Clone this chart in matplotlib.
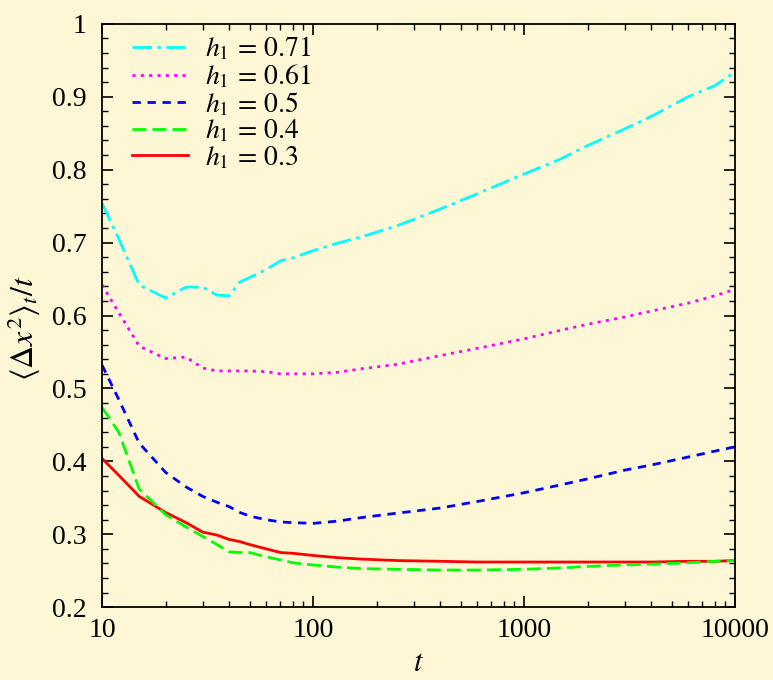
import matplotlib
matplotlib.use("Agg")
import matplotlib.pyplot as plt
from matplotlib.ticker import MultipleLocator, LogLocator, FixedLocator, NullFormatter, FuncFormatter

plt.rcParams["font.family"] = ["Liberation Serif", "DejaVu Serif"]
plt.rcParams["mathtext.fontset"] = "stix"

bg = "#FEF7D6"

# time grid shared by all curves
t = [10, 12, 15, 20, 25, 30, 35, 40, 45, 50, 60, 70, 80, 100, 130, 170, 250,
     400, 600, 1000, 1500, 2000, 3000, 4000, 6000, 8000, 10000]

h071 = [0.754, 0.705, 0.642, 0.624, 0.639, 0.639, 0.628, 0.627, 0.646, 0.652,
        0.663, 0.675, 0.679, 0.689, 0.699, 0.708, 0.723, 0.746, 0.767, 0.794,
        0.815, 0.833, 0.856, 0.873, 0.900, 0.915, 0.934]
h061 = [0.642, 0.604, 0.558, 0.541, 0.543, 0.528, 0.524, 0.524, 0.524, 0.524,
        0.523, 0.520, 0.520, 0.520, 0.522, 0.527, 0.533, 0.545, 0.555, 0.568,
        0.580, 0.588, 0.598, 0.606, 0.617, 0.627, 0.636]
h05 = [0.532, 0.485, 0.425, 0.385, 0.365, 0.352, 0.344, 0.338, 0.330, 0.325,
       0.320, 0.317, 0.316, 0.315, 0.318, 0.323, 0.329, 0.336, 0.345, 0.357,
       0.368, 0.376, 0.388, 0.395, 0.406, 0.414, 0.420]
h04 = [0.474, 0.440, 0.362, 0.327, 0.310, 0.297, 0.286, 0.276, 0.275, 0.275,
       0.269, 0.265, 0.261, 0.258, 0.255, 0.253, 0.252, 0.251, 0.251, 0.252,
       0.254, 0.256, 0.258, 0.259, 0.261, 0.263, 0.264]
h03 = [0.404, 0.381, 0.352, 0.330, 0.316, 0.303, 0.299, 0.293, 0.290, 0.286,
       0.280, 0.275, 0.274, 0.271, 0.268, 0.266, 0.264, 0.263, 0.262, 0.262,
       0.262, 0.262, 0.262, 0.262, 0.263, 0.263, 0.264]

labels = [r"$h_1\,=\,0.71$", r"$h_1\,=\,0.61$", r"$h_1\,=\,0.5$",
          r"$h_1\,=\,0.4$", r"$h_1\,=\,0.3$"]

fig = plt.figure(figsize=(7.73, 6.8), dpi=100, facecolor=bg)
ax = fig.add_axes([0.132, 0.107, 0.819, 0.858], facecolor=bg)

lw = 2.0
ax.plot(t, h071, color="#00FFFF", lw=lw, dashes=[7.0, 2.0, 1.2, 2.0], label=labels[0])
ax.plot(t, h061, color="#FF00FF", lw=lw, dashes=[1.1, 1.9], label=labels[1])
ax.plot(t, h05, color="#0000FF", lw=lw, dashes=[3.0, 2.4], label=labels[2])
ax.plot(t, h03, color="#FF0000", lw=lw, label=labels[4])
ax.plot(t, h04, color="#00FF00", lw=lw, dashes=[5.0, 2.2], label=labels[3])

ax.set_xscale("log")
ax.set_xlim(10, 10000)
ax.set_ylim(0.2, 1.0)

ax.xaxis.set_major_locator(FixedLocator([10, 100, 1000, 10000]))
ax.xaxis.set_major_formatter(FuncFormatter(lambda v, p: "%d" % round(v)))
ax.xaxis.set_minor_locator(LogLocator(base=10, subs=range(2, 10)))
ax.xaxis.set_minor_formatter(NullFormatter())
ax.yaxis.set_major_locator(MultipleLocator(0.1))
ax.yaxis.set_major_formatter(FuncFormatter(lambda v, p: "%g" % round(v, 2)))
ax.yaxis.set_minor_locator(MultipleLocator(0.02))

ax.tick_params(which="both", direction="in", top=True, right=True, labelsize=20)
ax.tick_params(axis="y", which="major", length=8, width=1.2, pad=11)
ax.tick_params(axis="x", which="major", length=8, width=1.2, pad=8)
ax.tick_params(which="minor", length=4.5, width=1.0)
for s in ax.spines.values():
    s.set_linewidth(1.3)

ax.set_xlabel(r"$t$", fontsize=22, labelpad=4)
ax.set_ylabel(r"$\langle \Delta x^2 \rangle_t / t$", fontsize=23)
ax.yaxis.set_label_coords(-0.093, 0.478)

h, l = ax.get_legend_handles_labels()
order = [0, 1, 2, 4, 3]
ax.legend([h[i] for i in order], [l[i] for i in order], loc="upper left",
          bbox_to_anchor=(0.039, 0.99), frameon=False, fontsize=20,
          handlelength=2.0, handletextpad=0.6, labelspacing=0.0,
          borderaxespad=0.0, borderpad=0.2)

fig.savefig("out.png", dpi=100, facecolor=bg)
